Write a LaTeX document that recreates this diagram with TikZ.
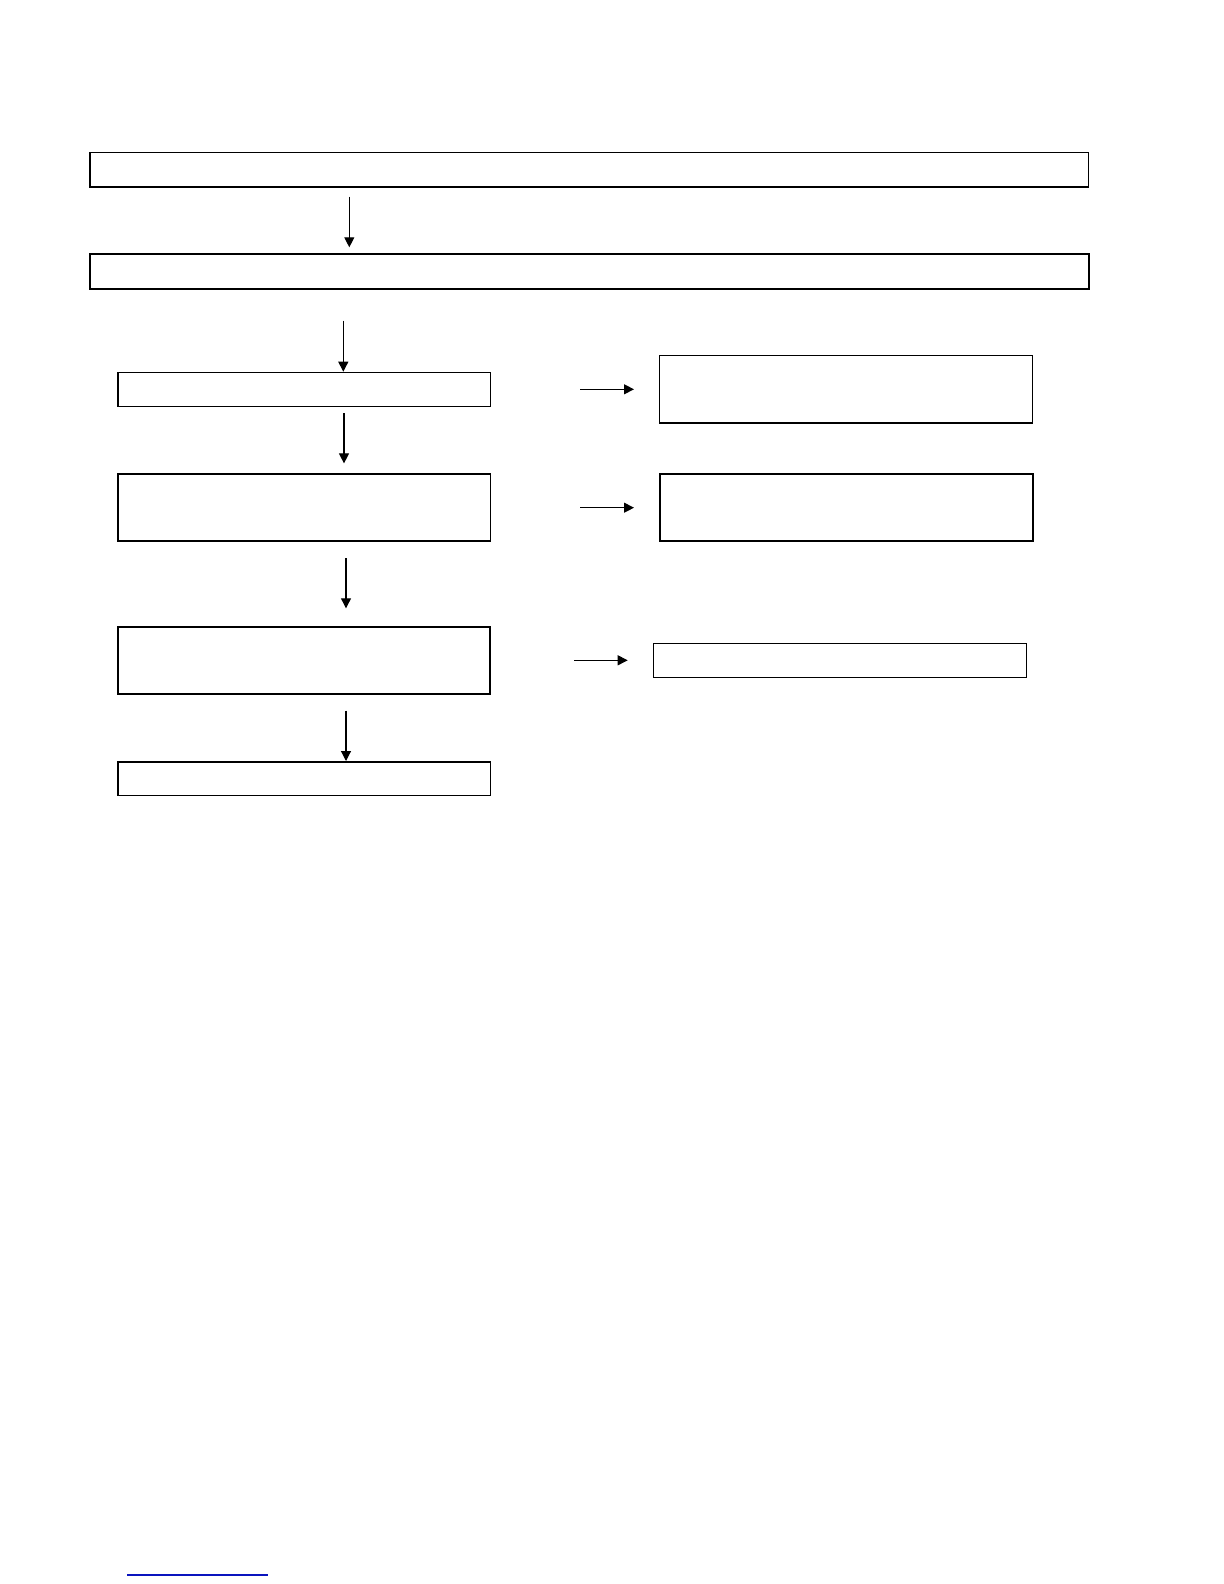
\documentclass[tikz,border=0pt]{standalone}
\usetikzlibrary{arrows.meta}
\begin{document}
\begin{tikzpicture}[x=0.5pt,y=-0.5pt,
  box/.style={draw=black,line width=0.65pt,inner sep=0pt,outer sep=0pt,minimum width=186.15pt,fill=none},
  arr/.style={draw=black,line width=0.55pt,-{Triangle[length=5pt,width=5pt]}}]
\useasboundingbox (0,0) rectangle (1224,1584);
\fill[white] (0,0) rectangle (1224,1584);
\node[box,minimum width=499.35pt,minimum height=17.15pt] (A) at (589.35,169.85) {};
\node[box,line width=1.05pt,minimum width=499.35pt,minimum height=17.5pt] (B) at (589.35,271.2) {};
\node[box,minimum height=16.9pt] (C) at (304.15,389.4) {};
\node[box,line width=0.75pt,minimum height=33.5pt] (D) at (304.15,507.5) {};
\node[box,line width=0.85pt,minimum height=33.65pt] (E) at (304.15,660.35) {};
\node[box,line width=0.75pt,minimum height=16.75pt] (F) at (304.15,778.75) {};
\node[box,minimum width=186.5pt,minimum height=33.85pt] (G) at (846.2,389.15) {};
\node[box,line width=0.85pt,minimum width=186.5pt,minimum height=33.65pt] (H) at (846.2,507.65) {};
\node[box,minimum width=186.55pt,minimum height=17pt] (I) at (840.05,660.3) {};
\coordinate (a1s) at (349.3,196.7); \coordinate (a1e) at (349.3,247.3);
\coordinate (a2s) at (343.3,320.7); \coordinate (a2e) at (343.3,371.7);
\coordinate (a3s) at (344,413.4); \coordinate (a3e) at (344,463.4);
\coordinate (a4s) at (346,558.3); \coordinate (a4e) at (346,608.3);
\coordinate (a5s) at (346,710.7); \coordinate (a5e) at (346,761);
\coordinate (r1s) at (580,389.3); \coordinate (r1e) at (634,389.3);
\coordinate (r2s) at (580,507.7); \coordinate (r2e) at (634,507.7);
\coordinate (r3s) at (574.3,660.3); \coordinate (r3e) at (627.7,660.3);
\draw[arr] (a1s) -- (a1e);
\draw[arr] (a2s) -- (a2e);
\draw[arr] (a3s) -- (a3e);
\draw[arr] (a4s) -- (a4e);
\draw[arr] (a5s) -- (a5e);
\draw[arr] (r1s) -- (r1e);
\draw[arr] (r2s) -- (r2e);
\draw[arr] (r3s) -- (r3e);
\coordinate (bl1) at (127,1575); \coordinate (bl2) at (268,1575);
\draw[color={rgb,255:red,10;green,20;blue,190},line width=0.6pt] (bl1) -- (bl2);
\end{tikzpicture}
\end{document}
